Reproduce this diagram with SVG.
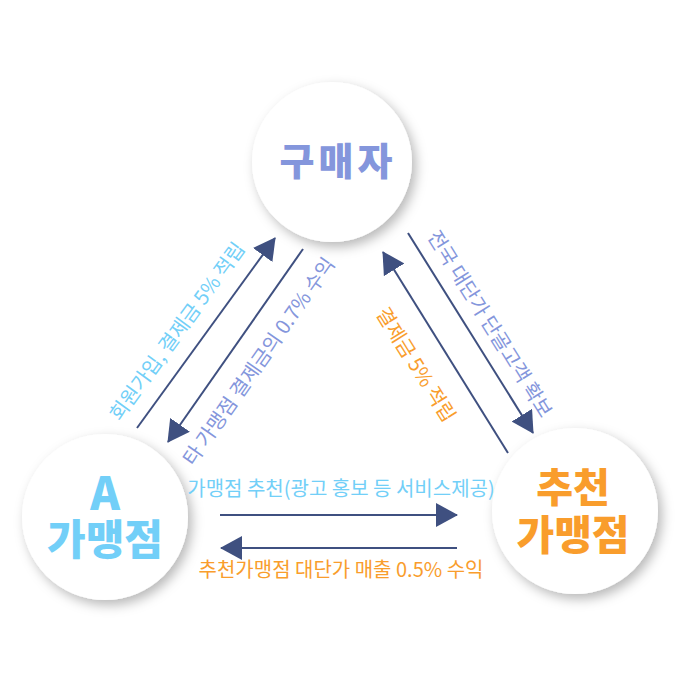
<svg xmlns="http://www.w3.org/2000/svg" width="680" height="680" viewBox="0 0 680 680">
<defs>
<filter id="sh" x="-30%" y="-30%" width="160%" height="160%">
<feDropShadow dx="4" dy="5" stdDeviation="6" flood-color="#000" flood-opacity="0.28"/>
</filter>
<marker id="ah" viewBox="0 0 22 24" refX="21" refY="12" markerWidth="22" markerHeight="24" markerUnits="userSpaceOnUse" orient="auto">
<path d="M0,0 L22,12 L0,24 z" fill="#3F5080"/>
</marker>
</defs>
<style>
.node{fill:#fff;filter:url(#sh)}
.title{font-family:"Noto Sans CJK KR","Noto Sans",sans-serif;font-weight:900;text-anchor:middle}
.lbl{font-family:"Noto Sans CJK KR","Noto Sans",sans-serif;font-size:20px;text-anchor:middle}
.ln{stroke:#3F5080;stroke-width:2;fill:none;marker-end:url(#ah)}
.blue{fill:#72CFF8}
.orange{fill:#F99D2C}
.peri{fill:#8496DC}
</style>
<rect width="680" height="680" fill="#fff"/>
<g id="buyer">
<circle class="node" cx="332" cy="162" r="80"/>
<text class="title peri" x="338" y="175" font-size="38" letter-spacing="4">구매자</text>
</g>
<g id="storeA">
<circle class="node" cx="105" cy="517" r="83"/>
<text class="title blue"><tspan x="105" y="510" font-size="45">A</tspan><tspan x="105" y="555" font-size="42">가맹점</tspan></text>
</g>
<g id="recStore">
<circle class="node" cx="575" cy="511" r="83"/>
<text class="title orange"><tspan x="573" y="502" font-size="40">추천</tspan><tspan x="573" y="550" font-size="41">가맹점</tspan></text>
</g>
<g id="connectors">
<line class="ln" x1="137" y1="428" x2="275" y2="238"/>
<line class="ln" x1="303" y1="249" x2="168" y2="442"/>
<line class="ln" x1="408" y1="233" x2="533" y2="433"/>
<line class="ln" x1="508" y1="453" x2="383" y2="252"/>
<line class="ln" x1="220" y1="515" x2="457" y2="515"/>
<line class="ln" x1="457" y1="548" x2="221" y2="548"/>
</g>
<g id="labels">
<text class="lbl blue" transform="translate(178,332) rotate(-54)" x="0" y="6">회원가입, 결제금 5% 적립</text>
<text class="lbl peri" transform="translate(254,358) rotate(-55)" x="0" y="13">타 가맹점 결제금의 0.7% 수익</text>
<text class="lbl peri" transform="translate(490,324) rotate(58)" x="0" y="7">전국 대단가 단골고객 확보</text>
<text class="lbl orange" transform="translate(420,362) rotate(58)" x="0" y="12">결제금 5% 적립</text>
<text class="lbl blue" x="341" y="496">가맹점 추천(광고 홍보 등 서비스제공)</text>
<text class="lbl orange" x="341" y="577">추천가맹점 대단가 매출 0.5% 수익</text>
</g>
</svg>
